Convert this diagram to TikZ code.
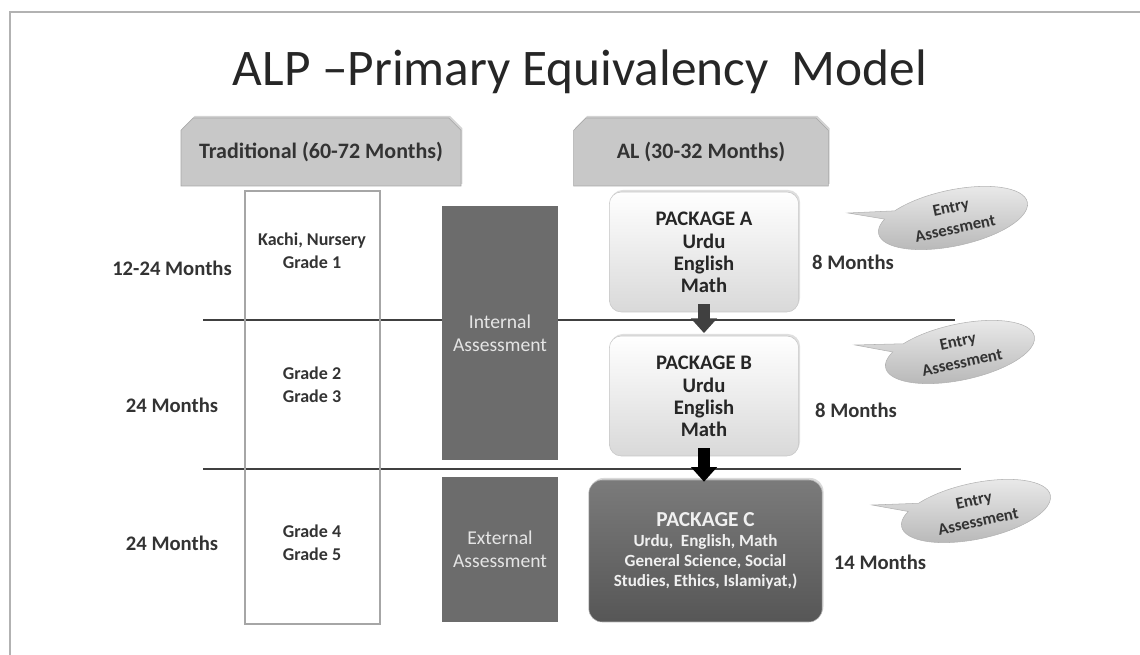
\documentclass[tikz,border=0pt]{standalone}
\usepackage{fontspec}
\setmainfont{Carlito}
\usetikzlibrary{shapes.misc,shapes.callouts,arrows.meta,shadows}
\definecolor{txtgray}{RGB}{51,51,51}
\definecolor{hdrgray}{RGB}{200,200,200}
\definecolor{boxgray}{RGB}{108,108,108}
\definecolor{linegray}{RGB}{64,64,64}
\tikzset{
  hdrbox/.style={chamfered rectangle, chamfered rectangle corners={north west,north east},
    chamfered rectangle xsep=6pt, draw=gray!70, fill=hdrgray, text=txtgray,
    font=\fontsize{16.5}{19}\selectfont\bfseries,
    drop shadow={opacity=0.35, shadow xshift=1pt, shadow yshift=1.5pt}},
  pkgbox/.style={rounded corners=9pt, draw=gray!45, top color=white, bottom color=gray!30,
    text=black!85, align=center, font=\fontsize{15.5}{16.5}\selectfont\bfseries,
    drop shadow={opacity=0.25, shadow xshift=1pt, shadow yshift=1.5pt}},
  assessbox/.style={fill=boxgray, text=gray!20, align=center, font=\fontsize{14.7}{17}\selectfont},
  lbl/.style={text=txtgray, align=center, font=\fontsize{15.5}{17}\selectfont\bfseries},
  entry/.style={ellipse callout, draw=gray!60, top color=gray!15, bottom color=gray!55,
    rotate=12, minimum width=114pt, minimum height=42pt, inner sep=1pt, align=center,
    text=txtgray, font=\fontsize{12.5}{16}\selectfont\bfseries},
  blockarr/.style={line width=9pt, -{Triangle[width=19pt,length=11pt]}}
}
\begin{document}
\begin{tikzpicture}[x=0.75pt,y=0.75pt,yscale=-1,xscale=1]
\useasboundingbox (0,0) rectangle (1140,655);

%Slide frame
\draw [gray!60, line width=1pt] (10,655) -- (10,12) -- (1140,12) ;

%Title
\node [text=black!85, font=\fontsize{38.5}{44}\selectfont] (title) at (580,72) {ALP –Primary Equivalency\ \ Model};

%Headers
\node [hdrbox, minimum width=210pt, minimum height=51pt] (trad) at (321,152) {Traditional (60-72 Months)};
\node [hdrbox, minimum width=191pt, minimum height=51pt] (al) at (701,152) {AL (30-32 Months)};

%Straight Lines
\draw [linegray, line width=1.5pt] (203,320) -- (955,320) ;
\draw [linegray, line width=1.5pt] (203,469) -- (961,469) ;

%Shape: Rectangle (grade column)
\draw [gray!70, line width=0.8pt] (245,191) rectangle (380,624) ;

%Shape: Rectangle (assessments)
\node [assessbox, minimum width=87pt, minimum height=190.5pt] (internal) at (500,333) {Internal\\Assessment};
\node [assessbox, minimum width=87pt, minimum height=109pt] (external) at (500,549.5) {External\\Assessment};

%Packages
\node [pkgbox, minimum width=142pt, minimum height=90pt] (pkga) at (704,252) {PACKAGE A\\[1pt]Urdu\\English\\Math};
\node [pkgbox, minimum width=142pt, minimum height=90pt] (pkgb) at (704,396) {PACKAGE B\\[1pt]Urdu\\English\\Math};
\node [rounded corners=10pt, draw=gray!60, top color=boxgray!90, bottom color=boxgray!80!black,
  text=gray!12, align=center, font=\fontsize{12.8}{15}\selectfont\bfseries,
  minimum width=175pt, minimum height=106.5pt,
  drop shadow={opacity=0.3, shadow xshift=1pt, shadow yshift=1.5pt}] (pkgc) at (705.5,551)
  {{\fontsize{16}{18}\selectfont PACKAGE C}\\Urdu,\ \ English, Math\\General Science, Social\\Studies, Ethics, Islamiyat,)};

%Arrows
\draw [blockarr, black!75, shorten <=-6pt, shorten >=2pt] (pkga.south) -- (pkgb.north) ;
\draw [blockarr, black, shorten <=-6pt, shorten >=-1.5pt] (pkgb.south) -- (pkgb.south |- pkgc.north) ;

%Left labels
\node [lbl] (m1) at (172,268) {12-24 Months};
\node [lbl] (m2) at (172,405) {24 Months};
\node [lbl] (m3) at (172,543) {24 Months};

%Grade labels
\node [lbl, font=\fontsize{13.5}{17}\selectfont\bfseries] (g1) at (312,251) {Kachi, Nursery\\Grade 1};
\node [lbl, font=\fontsize{13.5}{17}\selectfont\bfseries] (g2) at (312,385) {Grade 2\\Grade 3};
\node [lbl, font=\fontsize{13.5}{17}\selectfont\bfseries] (g3) at (312,543) {Grade 4\\Grade 5};

%Right labels
\node [lbl] (r1) at (853,262) {8 Months};
\node [lbl] (r2) at (856,410) {8 Months};
\node [lbl] (r3) at (880,562) {14 Months};

%Callouts
\node [entry, callout absolute pointer={(848,213)}] (e1) at (953,218) {Entry\\Assessment};
\node [entry, callout absolute pointer={(855,345)}] (e2) at (960,352) {Entry\\Assessment};
\node [entry, callout absolute pointer={(872,505)}] (e3) at (976,511) {Entry\\Assessment};

\end{tikzpicture}
\end{document}
